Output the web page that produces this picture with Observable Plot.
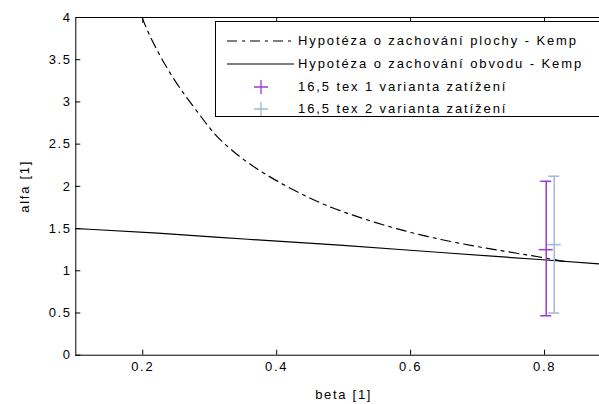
<!DOCTYPE html>
<html>
<head>
<meta charset="utf-8">
<script src="https://cdn.jsdelivr.net/npm/d3@7"></script>
<script src="https://cdn.jsdelivr.net/npm/@observablehq/plot@0.6"></script>
<style>
  html, body { margin: 0; padding: 0; background: #fff; overflow: hidden; }
  #wrap { position: relative; width: 599px; height: 404px; overflow: hidden; font-family: "Liberation Sans", Arial, sans-serif; }
  #wrap > svg { position: absolute; left: 0; top: 0; max-width: none !important; }
  #legend { position: absolute; left: 215px; top: 21px; width: 420px; height: 96px; border: 1px solid #000; background: #fff; box-sizing: border-box; }
  .row { position: absolute; left: 0; height: 20px; width: 100%; }
  .row svg { position: absolute; left: 11px; top: 0; }
  .row span { position: absolute; left: 82px; top: 2px; font-size: 13px; letter-spacing: 1.9px; color: #000; white-space: nowrap; }
</style>
</head>
<body>
<div id="wrap"></div>
<script>
// Data
const xTicks = [0.2, 0.4, 0.6, 0.8];
const yTicks = [0, 0.5, 1, 1.5, 2, 2.5, 3, 3.5, 4];

const betaArea  = [0.199, 0.211, 0.246, 0.286, 0.306, 0.336, 0.376, 0.426, 0.45, 0.48, 0.535, 0.595, 0.65, 0.71, 0.765, 0.795, 0.83];
const alphaArea = [4.0,   3.76,  3.25,  2.84,  2.62,  2.40,  2.17,  1.95,  1.86, 1.75, 1.60,  1.46,  1.36, 1.27, 1.20,  1.16,  1.11];

const betaPer  = [0.1,  0.219, 0.358, 0.488, 0.654, 0.8,  0.9];
const alphaPer = [1.50, 1.45,  1.37,  1.31,  1.21,  1.13, 1.07];

const seriesNames = ["16,5 tex 1 varianta zatížení", "16,5 tex 2 varianta zatížení"];
const seriesColors = ["#9a3ad6", "#9fb8d6"];
const errX   = [0.8025, 0.8145];
const errMid = [1.25, 1.31];
const errLo  = [0.467, 0.50];
const errHi  = [2.06, 2.12];

const curveNames = ["Hypotéza o zachování plochy - Kemp", "Hypotéza o zachování obvodu - Kemp"];
const dashDot = "10,5,3,5";

const area = betaArea.map((b, i) => ({b, a: alphaArea[i]}));
const per = betaPer.map((b, i) => ({b, a: alphaPer[i]}));
const err = errX.map((x, i) => ({x, mid: errMid[i], lo: errLo[i], hi: errHi[i], s: seriesNames[i]}));

const chart = Plot.plot({
  width: 640,
  height: 404,
  marginLeft: 75.3,
  marginRight: 29,
  marginTop: 17,
  marginBottom: 49.3,
  style: {fontFamily: "'Liberation Sans', Arial, sans-serif", fontSize: "13px", letterSpacing: "1.7px", color: "#000", background: "#fff", maxWidth: "none"},
  x: {domain: [0.1, 0.9]},
  y: {domain: [0, 4]},
  color: {domain: seriesNames, range: seriesColors},
  marks: [
    Plot.frame({stroke: "#000"}),
    Plot.axisX(xTicks, {anchor: "bottom", tickSize: -5, tickPadding: 12, tickFormat: d => String(d), label: "beta [1]", labelAnchor: "center", labelArrow: "none", labelOffset: 44}),
    Plot.axisX(xTicks, {anchor: "top", tickSize: -5, text: null, label: null}),
    Plot.axisY(yTicks, {anchor: "left", tickSize: -5, tickPadding: 9, tickFormat: d => String(d), label: "alfa [1]", labelAnchor: "center", labelArrow: "none", labelOffset: 56}),
    Plot.line(per, {x: "b", y: "a", stroke: "#000", strokeWidth: 1.2, curve: "basis", clip: true}),
    Plot.line(area, {x: "b", y: "a", stroke: "#000", strokeWidth: 1.2, strokeDasharray: dashDot, curve: "basis", clip: true}),
    Plot.ruleX(err, {x: "x", y1: "lo", y2: "hi", stroke: "s", strokeWidth: 1.5}),
    Plot.ruleY(err, {y: "lo", x1: "x", x2: "x", insetLeft: -5.5, insetRight: -5.5, stroke: "s", strokeWidth: 1.5}),
    Plot.ruleY(err, {y: "hi", x1: "x", x2: "x", insetLeft: -5.5, insetRight: -5.5, stroke: "s", strokeWidth: 1.5}),
    Plot.ruleY(err, {y: "mid", x1: "x", x2: "x", insetLeft: -7, insetRight: -7, stroke: "s", strokeWidth: 1.5})
  ]
});
const wrap = document.getElementById("wrap");
wrap.appendChild(chart);

// Legend (inside the axes, top right)
const legend = document.createElement("div");
legend.id = "legend";
const rowTops = [9, 32, 55, 77];
const items = [
  {name: curveNames[0], kind: "line", dash: dashDot, color: "#000"},
  {name: curveNames[1], kind: "line", dash: null, color: "#000"},
  {name: seriesNames[0], kind: "plus", color: seriesColors[0]},
  {name: seriesNames[1], kind: "plus", color: seriesColors[1]}
];
items.forEach((it, i) => {
  const row = document.createElement("div");
  row.className = "row";
  row.style.top = rowTops[i] + "px";
  const ns = "http://www.w3.org/2000/svg";
  const s = document.createElementNS(ns, "svg");
  s.setAttribute("width", 68); s.setAttribute("height", 20);
  if (it.kind === "line") {
    const l = document.createElementNS(ns, "line");
    l.setAttribute("x1", 0); l.setAttribute("x2", 67); l.setAttribute("y1", 10); l.setAttribute("y2", 10);
    l.setAttribute("stroke", it.color); l.setAttribute("stroke-width", 1.2);
    if (it.dash) l.setAttribute("stroke-dasharray", it.dash);
    s.appendChild(l);
  } else {
    const p = document.createElementNS(ns, "path");
    p.setAttribute("d", "M27,10H41M34,3V17");
    p.setAttribute("stroke", it.color); p.setAttribute("stroke-width", 1.3); p.setAttribute("fill", "none");
    s.appendChild(p);
  }
  row.appendChild(s);
  const t = document.createElement("span");
  t.textContent = it.name;
  row.appendChild(t);
  legend.appendChild(row);
});
wrap.appendChild(legend);
</script>
</body>
</html>
